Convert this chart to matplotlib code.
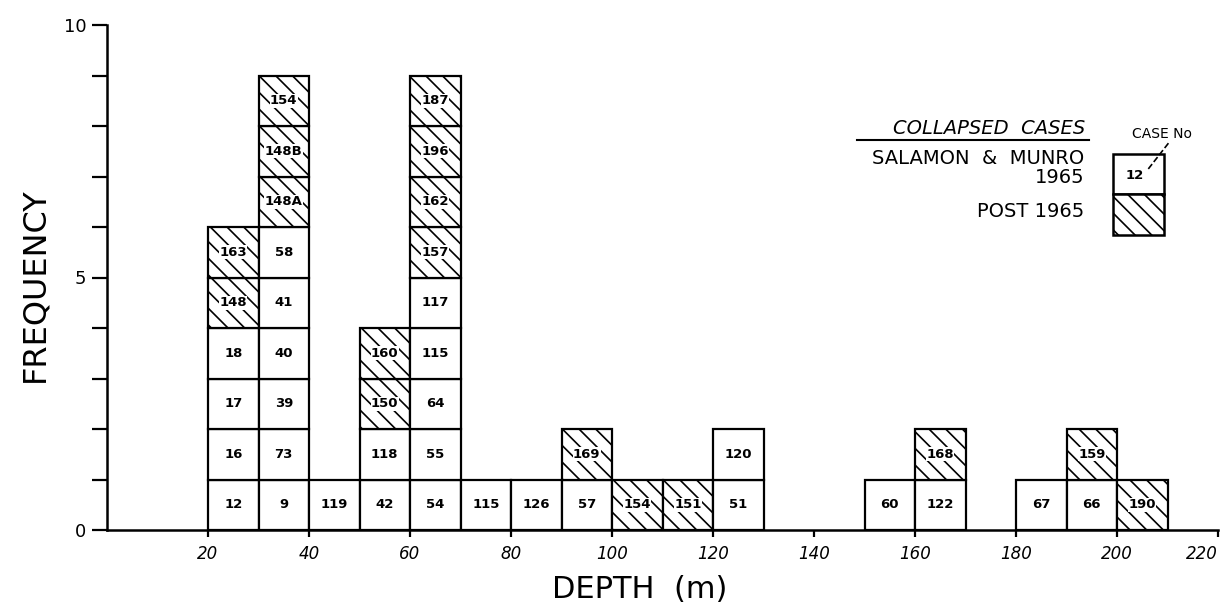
import matplotlib
matplotlib.use("Agg")
import matplotlib.pyplot as plt
from matplotlib.patches import Rectangle

# Depth bins (left edge, m) and the case numbers stacked in each bin
bin_starts = [20, 30, 40, 50, 60, 70, 80, 90, 100, 110, 120, 150, 160, 180, 190, 200]
salamon_cases = [["12", "16", "17", "18"], ["9", "73", "39", "40", "41", "58"], ["119"], ["42", "118"],
                 ["54", "55", "64", "115", "117"], ["115"], ["126"], ["57"], [], [], ["51", "120"],
                 ["60"], ["122"], ["67"], ["66"], []]
post_cases = [["148", "163"], ["148A", "148B", "154"], [], ["150", "160"], ["157", "162", "196", "187"],
              [], [], ["169"], ["154"], ["151"], [], [], ["168"], [], ["159"], ["190"]]
bin_width = 10

x_ticks = [20, 40, 60, 80, 100, 120, 140, 160, 180, 200, 220]
y_ticks = list(range(0, 11))
y_labels = ["0", "", "", "", "", "5", "", "", "", "", "10"]

plt.rcParams['font.family'] = ['DejaVu Sans']
plt.rcParams['hatch.linewidth'] = 1.2

fig = plt.figure(figsize=(12.27, 6.16), dpi=100)
ax = fig.add_axes([107 / 1227, 86 / 616, 1111 / 1227, 505 / 616])

# stacked boxes: plain first, hatched (post 1965) on top
for left, plain, post in zip(bin_starts, salamon_cases, post_cases):
    labels = plain + post
    hatched = [False] * len(plain) + [True] * len(post)
    for level, (lab, h) in enumerate(zip(labels, hatched)):
        ax.bar(left, 1, width=bin_width, bottom=level, align='edge', facecolor='white',
               edgecolor='black', linewidth=1.6, hatch='\\\\' if h else None, zorder=2)
        txt = ax.text(left + bin_width / 2, level + 0.5, lab, ha='center', va='center',
                      fontsize=9.5, fontweight='bold', zorder=4)
        if h:
            txt.set_bbox(dict(facecolor='white', edgecolor='none', pad=0.3))

# axes styling
ax.set_xlim(0, 220)
ax.set_ylim(0, 10)
ax.spines['top'].set_visible(False)
ax.spines['right'].set_visible(False)
ax.spines['left'].set_linewidth(1.8)
ax.spines['bottom'].set_linewidth(1.8)
ax.set_yticks(y_ticks)
ax.set_yticklabels(y_labels, fontsize=13)
ax.set_xticks(x_ticks)
ax.set_xticklabels([str(t) for t in x_ticks], fontsize=12, fontstyle='italic')
ax.get_xticklabels()[-1].set_horizontalalignment('right')
ax.tick_params(axis='y', direction='out', length=11, width=1.6, pad=4)
ax.tick_params(axis='x', direction='out', length=5, width=1.6, pad=6)

fig.text(35 / 1227, 1 - 285 / 616, "FREQUENCY", rotation=90, ha='center', va='center', fontsize=23)
fig.text(640 / 1227, 26 / 616, "DEPTH  (m)", ha='center', va='center', fontsize=22)

# legend drawn by hand
ax.text(193.8, 7.95, "COLLAPSED  CASES", ha='right', va='center', fontsize=14, fontstyle='italic')
ax.plot([148.5, 194.5], [7.72, 7.72], color='black', lw=1.5, clip_on=False)
ax.text(193.5, 7.35, "SALAMON  &  MUNRO", ha='right', va='center', fontsize=14)
ax.text(193.5, 6.98, "1965", ha='right', va='center', fontsize=14)
ax.text(193.5, 6.3, "POST 1965", ha='right', va='center', fontsize=14)
ax.text(209, 7.85, "CASE No", ha='center', va='center', fontsize=10)
ax.add_patch(Rectangle((199.3, 6.65), 10, 0.8, facecolor='white', edgecolor='black', lw=1.8, clip_on=False))
ax.add_patch(Rectangle((199.3, 5.85), 10, 0.8, facecolor='white', edgecolor='black', lw=1.8,
                       hatch='\\\\', clip_on=False))
ax.text(203.6, 7.02, "12", ha='center', va='center', fontsize=9.5, fontweight='bold')
ax.plot([206.2, 210.5], [7.15, 7.7], color='black', lw=1.2, ls='--', clip_on=False)

fig.savefig("out.png", dpi=100)
